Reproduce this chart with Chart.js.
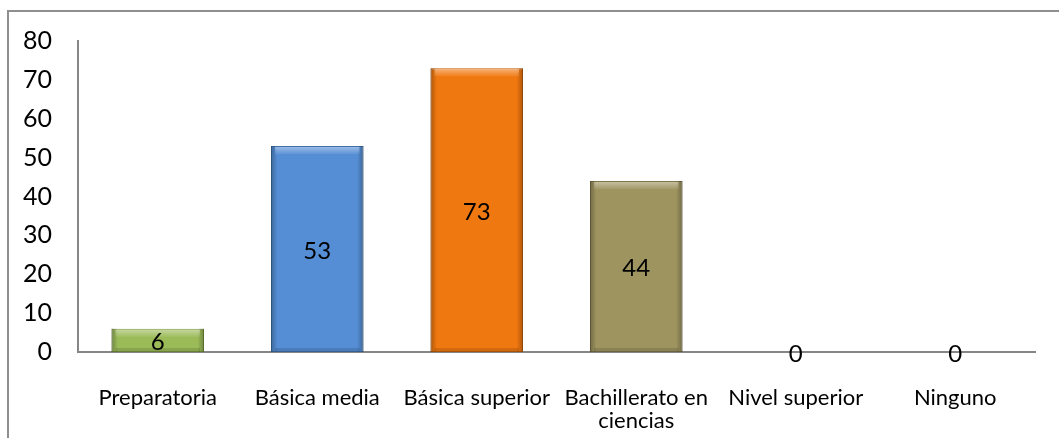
<!DOCTYPE html>
<html>
<head>
<meta charset="utf-8">
<script src="https://cdn.jsdelivr.net/npm/chart.js@4"></script>
<style>
  html, body { margin: 0; padding: 0; background: #fff; overflow: hidden; }
  #wrap { position: relative; width: 1059px; height: 438px; }
  #frame { position: absolute; left: 7px; top: 10px; width: 1100px; height: 500px; border: 2px solid #8f8f8f; box-sizing: border-box; }
  canvas { position: absolute; left: 0; top: 0; }
</style>
</head>
<body>
<div id="wrap">
  <div id="frame"></div>
  <canvas id="myBarChart" width="1059" height="438"></canvas>
</div>
<script>
  const categories = [
    'Preparatoria',
    'Básica media',
    'Básica superior',
    ['Bachillerato en', 'ciencias'],
    'Nivel superior',
    'Ninguno'
  ];
  const values = [6, 53, 73, 44, 0, 0];
  const barColors = ['#9bbb59', '#558ed5', '#f07810', '#9e9460', '#4f81bd', '#c0504d'];
  const edgeColors = ['#76923c', '#3f6fa8', '#c05f0a', '#7a7248', '#3f6fa8', '#983c3a'];

  // bevel shading so the bars look a bit like the office 3d style
  const bevel = {
    id: 'bevel',
    afterDatasetsDraw(chart) {
      const ctx = chart.ctx;
      const meta = chart.getDatasetMeta(0);
      ctx.save();
      meta.data.forEach((bar) => {
        const p = bar.getProps(['x', 'y', 'base', 'width'], true);
        const h = p.base - p.y;
        if (h < 1) return;
        const left = p.x - p.width / 2;
        const g = ctx.createLinearGradient(left, 0, left + p.width, 0);
        g.addColorStop(0, 'rgba(0,0,0,0.28)');
        g.addColorStop(0.07, 'rgba(0,0,0,0)');
        g.addColorStop(0.93, 'rgba(0,0,0,0)');
        g.addColorStop(1, 'rgba(0,0,0,0.28)');
        ctx.fillStyle = g;
        ctx.fillRect(left, p.y, p.width, h);
        const t = Math.min(7, h / 2);
        const gt = ctx.createLinearGradient(0, p.y, 0, p.y + t);
        gt.addColorStop(0, 'rgba(255,255,255,0.45)');
        gt.addColorStop(1, 'rgba(255,255,255,0.1)');
        ctx.fillStyle = gt;
        ctx.fillRect(left + 4, p.y + 1, p.width - 8, t);
        ctx.fillStyle = 'rgba(0,0,0,0.12)';
        ctx.fillRect(left + 4, p.base - 4, p.width - 8, 4);
      });
      ctx.restore();
    }
  };

  // value labels in the middle of each bar
  const valueLabels = {
    id: 'valueLabels',
    afterDatasetsDraw(chart) {
      const ctx = chart.ctx;
      const meta = chart.getDatasetMeta(0);
      ctx.save();
      ctx.font = '24px Lato';
      ctx.fillStyle = '#000';
      ctx.textAlign = 'center';
      ctx.textBaseline = 'middle';
      meta.data.forEach((bar, i) => {
        const yMid = (bar.y + bar.base) / 2;
        ctx.fillText(String(values[i]), bar.x, yMid + 2);
      });
      ctx.restore();
    }
  };

  const barData = {
    labels: categories,
    datasets: [{
      label: 'Nivel',
      data: values,
      backgroundColor: barColors,
      borderColor: edgeColors,
      borderWidth: 1,
      borderSkipped: false,
      barPercentage: 0.58,
      categoryPercentage: 1
    }]
  };

  const barConfig = {
    type: 'bar',
    data: barData,
    options: {
      responsive: false,
      animation: false,
      layout: {
        padding: { left: 0, right: 24, top: 40, bottom: 0 }
      },
      plugins: {
        legend: { display: false },
        title: { display: false },
        tooltip: { enabled: false }
      },
      scales: {
        x: {
          grid: { display: false, drawTicks: false },
          border: { color: '#868686', width: 2 },
          ticks: {
            color: '#000',
            font: { family: 'Lato', size: 22, lineHeight: 1.05 },
            padding: 34,
            maxRotation: 0,
            autoSkip: false
          },
          afterFit(scale) { scale.height = 86; }
        },
        y: {
          min: 0,
          max: 80,
          grid: { display: false, drawTicks: false },
          border: { color: '#868686', width: 2 },
          ticks: {
            stepSize: 10,
            color: '#000',
            font: { family: 'Lato', size: 25 },
            padding: 26
          },
          afterFit(scale) { scale.width = 78; }
        }
      }
    },
    plugins: [bevel, valueLabels]
  };

  const myBarChart = new Chart(
    document.getElementById('myBarChart'),
    barConfig
  );
</script>
</body>
</html>
